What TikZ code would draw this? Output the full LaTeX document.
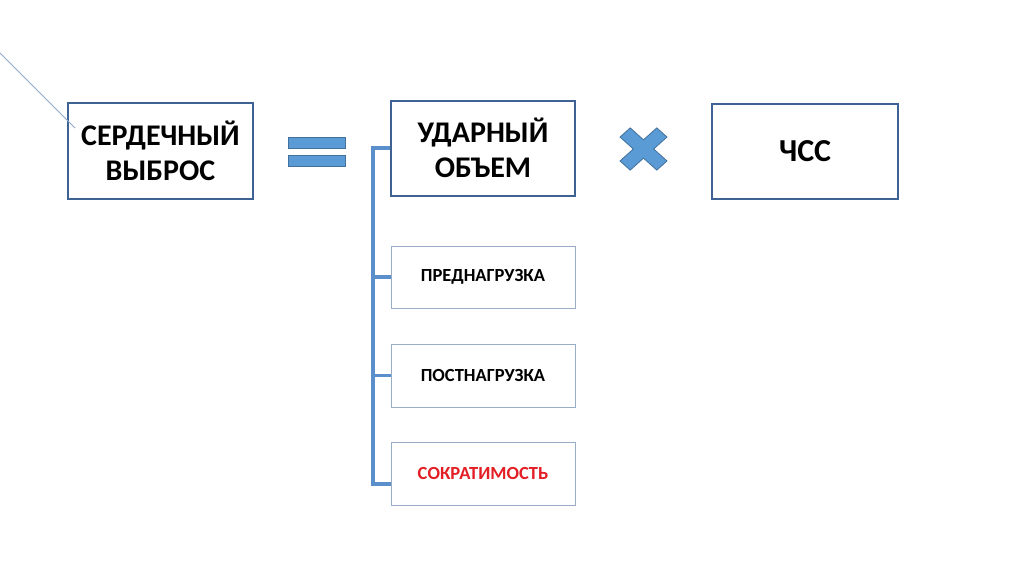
\documentclass[tikz,border=0pt]{standalone}
\usepackage{fontspec}
\setmainfont{Carlito}
\definecolor{boxblue}{HTML}{3F6295}
\definecolor{thinblue}{HTML}{9AADC6}
\definecolor{shapefill}{HTML}{5B9BD5}
\definecolor{shapeedge}{HTML}{41719C}
\definecolor{bracketcol}{HTML}{5A8FCB}
\definecolor{diagline}{HTML}{8FA9C8}
\definecolor{redtext}{HTML}{E31E24}
\tikzset{
  bigbox/.style={draw=boxblue, line width=2pt, fill=white, minimum width=184pt, minimum height=95pt, inner sep=0pt, align=center, font=\fontsize{30}{35}\selectfont\bfseries},
  smallbox/.style={draw=thinblue, line width=1pt, fill=white, minimum width=184pt, minimum height=62pt, inner sep=0pt, align=center, font=\fontsize{18.5}{22}\selectfont\bfseries},
  bracketline/.style={draw=bracketcol, line width=3.2pt},
  sym/.style={fill=shapefill, draw=shapeedge, line width=0.8pt}
}
\begin{document}
\begin{tikzpicture}[x=1pt,y=-1pt]
\useasboundingbox (0,0) rectangle (1024,574);
\fill[white] (0,0) rectangle (1024,574);
% boxes
\node[bigbox, minimum width=185pt, minimum height=96pt] (co) at (160.5,151) {СЕРДЕЧНЫЙ\\ВЫБРОС};
\node[bigbox] (uo) at (483,148) {УДАРНЫЙ\\ОБЪЕМ};
\node[bigbox, minimum width=186pt, font=\fontsize{32}{38}\selectfont\bfseries] (chss) at (805,151.5) {ЧСС};
\node[smallbox] (pre) at (483,277) {ПРЕДНАГРУЗКА};
\node[smallbox, minimum height=63pt] (post) at (483,375.5) {ПОСТНАГРУЗКА};
\node[smallbox, minimum height=63pt, text=redtext] (sok) at (483,473.5) {СОКРАТИМОСТЬ};
% diagonal line
\coordinate (d1) at (0,53);
\coordinate (d2) at (75,128);
\draw[diagline, line width=0.8pt] (d1) -- (d2);
% bracket
\coordinate (bot) at (373,484);
\draw[bracketline] (uo.west) -| (bot) -- (sok.west |- bot);
\draw[bracketline] (pre.west) -- (pre.west -| bot);
\draw[bracketline] (post.west) -- (post.west -| bot);
% equals sign
\draw[sym] (288,137) rectangle (345,148);
\draw[sym] (288,155) rectangle (345,166);
% multiplication cross
\begin{scope}[shift={(643.5,149)}, yscale=0.9, rotate=45]
\def\a{7.2}\def\L{26}
\draw[sym] (\L,\a) -- (\a,\a) -- (\a,\L) -- (-\a,\L) -- (-\a,\a) -- (-\L,\a) -- (-\L,-\a) -- (-\a,-\a) -- (-\a,-\L) -- (\a,-\L) -- (\a,-\a) -- (\L,-\a) -- cycle;
\end{scope}
\end{tikzpicture}
\end{document}
